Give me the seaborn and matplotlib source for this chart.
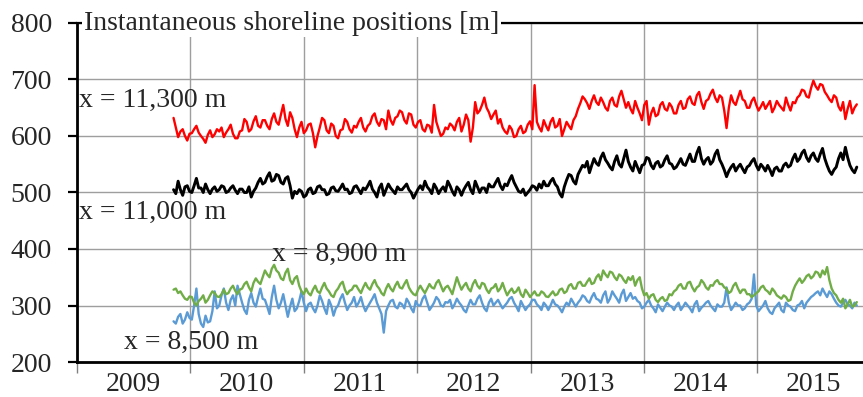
import numpy as np
import pandas as pd
import matplotlib
matplotlib.use("Agg")
import matplotlib.pyplot as plt
import matplotlib.dates as mdates
import seaborn as sns

# ---------------- data ----------------
start_date = "2009-11-08"
end_date = "2015-11-18"
n_points = 300

red_11300 = [
    632, 615, 598, 608, 612, 600, 592, 604, 605, 612, 618, 606, 600, 595, 588, 602, 610, 598, 603, 612,
    608, 615, 598, 606, 612, 620, 604, 596, 596, 608, 610, 630, 625, 608, 612, 626, 635, 618, 615, 628,
    628, 618, 612, 630, 640, 625, 620, 638, 655, 630, 618, 642, 632, 612, 598, 615, 625, 605, 610, 620,
    622, 605, 580, 600, 615, 632, 628, 610, 605, 622, 618, 600, 596, 610, 612, 630, 625, 612, 606, 618,
    615, 625, 632, 615, 608, 618, 622, 635, 640, 625, 618, 630, 628, 612, 645, 628, 620, 632, 635, 645,
    642, 628, 622, 640, 638, 620, 615, 625, 628, 612, 608, 620, 618, 606, 655, 625, 612, 600, 604, 615,
    612, 622, 618, 610, 625, 632, 608, 620, 638, 628, 590, 615, 660, 640, 645, 655, 668, 650, 642, 630,
    638, 645, 622, 630, 615, 608, 604, 618, 612, 598, 600, 612, 618, 605, 608, 620, 626, 612, 690, 625,
    615, 608, 628, 618, 610, 625, 632, 615, 618, 630, 600, 612, 625, 618, 612, 628, 635, 648, 658, 670,
    665, 658, 648, 662, 672, 660, 655, 668, 660, 650, 645, 662, 668, 655, 652, 670, 680, 665, 650, 660,
    648, 640, 662, 650, 640, 628, 655, 662, 620, 640, 650, 635, 638, 655, 660, 648, 645, 658, 652, 640,
    640, 655, 662, 648, 650, 665, 670, 658, 655, 672, 678, 660, 648, 662, 665, 675, 682, 668, 660, 672,
    668, 645, 614, 650, 672, 660, 655, 668, 680, 665, 662, 650, 650, 662, 668, 655, 645, 652, 660, 648,
    655, 662, 642, 650, 662, 655, 650, 645, 668, 655, 645, 660, 658, 668, 672, 682, 680, 670, 668, 685,
    698, 688, 682, 692, 690, 678, 672, 665, 660, 672, 668, 652, 645, 660, 630, 648, 662, 640, 650, 656,
]

black_11000 = [
    505, 498, 520, 505, 495, 510, 512, 502, 500, 512, 525, 508, 508, 500, 515, 505, 498, 506, 510, 502,
    505, 512, 510, 500, 502, 508, 512, 504, 498, 506, 506, 500, 500, 510, 492, 502, 508, 518, 525, 515,
    518, 528, 535, 520, 522, 532, 530, 518, 515, 525, 528, 512, 490, 502, 498, 505, 502, 492, 495, 505,
    508, 498, 500, 510, 512, 505, 505, 496, 498, 508, 510, 503, 502, 508, 515, 505, 506, 498, 500, 510,
    512, 505, 498, 508, 505, 512, 520, 506, 500, 492, 508, 515, 495, 505, 515, 508, 503, 498, 510, 505,
    505, 510, 515, 505, 500, 490, 498, 506, 512, 505, 520, 510, 505, 498, 515, 508, 498, 505, 510, 502,
    520, 512, 502, 495, 510, 505, 495, 505, 512, 518, 505, 498, 520, 510, 500, 508, 508, 500, 515, 510,
    510, 518, 525, 512, 505, 515, 512, 522, 530, 518, 510, 502, 500, 506, 495, 500, 505, 512, 510, 504,
    515, 508, 520, 512, 512, 520, 525, 515, 510, 498, 492, 510, 522, 532, 530, 520, 515, 532, 540, 548,
    545, 555, 535, 548, 560, 552, 548, 562, 570, 558, 552, 545, 540, 555, 565, 550, 545, 560, 575, 555,
    545, 538, 555, 545, 535, 548, 550, 562, 560, 548, 542, 552, 555, 545, 548, 558, 565, 552, 550, 542,
    545, 552, 560, 550, 548, 558, 568, 555, 555, 570, 580, 560, 550, 558, 562, 550, 555, 568, 575, 558,
    550, 540, 528, 538, 545, 550, 538, 545, 550, 542, 535, 545, 548, 555, 560, 548, 540, 550, 545, 538,
    548, 540, 530, 542, 545, 538, 538, 548, 552, 545, 548, 560, 568, 555, 560, 570, 575, 562, 555, 565,
    570, 560, 555, 568, 578, 560, 548, 538, 532, 540, 545, 560, 570, 558, 580, 562, 548, 540, 535, 545,
]

green_8900 = [
    328, 330, 322, 325, 318, 312, 310, 316, 315, 305, 300, 308, 312, 318, 305, 310, 318, 325, 322, 316,
    315, 320, 328, 320, 322, 330, 335, 326, 320, 328, 330, 338, 342, 332, 325, 340, 348, 342, 338, 350,
    362, 355, 350, 365, 372, 362, 358, 348, 345, 358, 365, 345, 338, 348, 352, 335, 325, 320, 330, 322,
    318, 328, 335, 325, 322, 332, 340, 330, 325, 318, 315, 325, 330, 338, 342, 328, 320, 326, 328, 335,
    335, 328, 322, 332, 340, 332, 328, 338, 345, 335, 330, 322, 318, 330, 338, 330, 325, 335, 342, 332,
    330, 338, 345, 332, 325, 320, 318, 328, 335, 328, 322, 330, 338, 332, 330, 340, 345, 335, 325, 332,
    335, 328, 320, 335, 350, 338, 328, 335, 340, 330, 325, 338, 345, 335, 330, 340, 338, 328, 322, 330,
    332, 338, 325, 330, 340, 328, 318, 325, 330, 322, 325, 332, 320, 315, 328, 322, 315, 320, 325, 318,
    318, 325, 322, 316, 315, 320, 325, 318, 320, 328, 330, 322, 325, 335, 338, 330, 330, 340, 342, 335,
    335, 342, 348, 338, 340, 350, 355, 345, 362, 355, 350, 360, 358, 350, 345, 355, 352, 345, 340, 350,
    345, 352, 335, 345, 350, 330, 318, 322, 312, 318, 320, 310, 306, 312, 315, 308, 310, 320, 318, 325,
    328, 335, 338, 330, 330, 340, 342, 332, 325, 332, 335, 345, 340, 332, 328, 336, 335, 342, 345, 338,
    338, 332, 330, 322, 325, 335, 340, 330, 322, 328, 328, 320, 320, 315, 318, 322, 325, 332, 335, 328,
    325, 320, 330, 325, 318, 315, 312, 318, 315, 308, 310, 325, 335, 342, 348, 340, 345, 352, 355, 348,
    352, 360, 358, 350, 362, 355, 368, 345, 330, 322, 318, 310, 305, 312, 295, 302, 310, 298, 300, 306,
]

blue_8500 = [
    272, 268, 280, 285, 268, 275, 288, 278, 275, 300, 330, 285, 268, 262, 282, 270, 272, 290, 325, 295,
    300, 318, 330, 305, 292, 310, 318, 300, 335, 320, 305, 292, 285, 310, 322, 305, 298, 315, 330, 312,
    310, 298, 285, 315, 335, 310, 295, 305, 320, 300, 280, 298, 312, 290, 295, 308, 325, 305, 290, 302,
    305, 295, 288, 300, 318, 308, 295, 285, 310, 300, 282, 295, 300, 312, 320, 305, 292, 300, 305, 315,
    298, 305, 315, 300, 290, 298, 305, 312, 320, 305, 295, 285, 252, 290, 300, 308, 310, 298, 295, 305,
    302, 295, 312, 305, 295, 288, 308, 300, 300, 312, 318, 305, 292, 298, 305, 315, 310, 300, 298, 306,
    305, 310, 295, 302, 312, 305, 300, 292, 288, 300, 310, 302, 302, 312, 318, 305, 295, 290, 305, 312,
    300, 305, 310, 302, 295, 300, 305, 312, 315, 305, 298, 290, 308, 300, 292, 298, 302, 310, 310, 302,
    298, 292, 305, 300, 292, 300, 310, 302, 300, 295, 288, 298, 305, 300, 312, 305, 298, 305, 310, 318,
    315, 308, 305, 315, 322, 312, 310, 305, 318, 325, 305, 312, 325, 318, 312, 305, 320, 328, 308, 315,
    322, 312, 315, 308, 305, 295, 298, 305, 310, 300, 295, 288, 302, 296, 290, 298, 305, 300, 298, 292,
    300, 305, 292, 298, 305, 300, 295, 288, 302, 308, 290, 296, 300, 305, 308, 300, 295, 290, 302, 298,
    298, 305, 332, 305, 292, 298, 305, 300, 300, 292, 295, 302, 305, 312, 355, 300, 290, 295, 300, 308,
    295, 288, 285, 295, 300, 305, 292, 288, 305, 300, 298, 292, 290, 300, 302, 308, 295, 305, 310, 315,
    318, 322, 325, 318, 330, 322, 315, 325, 320, 312, 305, 300, 298, 305, 310, 302, 300, 295, 305, 300,
]

series_names = ["x = 8,500 m", "x = 8,900 m", "x = 11,000 m", "x = 11,300 m"]
series_values = [blue_8500, green_8900, black_11000, red_11300]
series_colors = ["#5B9BD5", "#70AD47", "#000000", "#FF0000"]
series_widths = [1.7, 1.7, 2.1, 1.7]

year_labels = ["2009", "2010", "2011", "2012", "2013", "2014", "2015"]
y_ticks = [200, 300, 400, 500, 600, 700, 800]
title_text = "Instantaneous shoreline positions [m]"

# ---------------- build long-form table ----------------
dates = pd.date_range(start_date, end_date, periods=n_points)
frames = []
for name, vals in zip(series_names, series_values):
    frames.append(pd.DataFrame({"date": dates, "value": vals, "series": name}))
df = pd.concat(frames, ignore_index=True)

# ---------------- style ----------------
sns.set_style("white")
plt.rcParams["font.family"] = ["Liberation Serif", "DejaVu Serif"]
FS = 20

fig = plt.figure(figsize=(8.63, 3.97), dpi=100)
ax = fig.add_axes([77 / 863, 35 / 397, 786 / 863, 339 / 397])

for name, color, lw in zip(series_names, series_colors, series_widths):
    sns.lineplot(data=df[df["series"] == name], x="date", y="value",
                 color=color, linewidth=lw, ax=ax, legend=False, zorder=3)

ax.set_xlabel("")
ax.set_ylabel("")

ax.set_ylim(y_ticks[0], y_ticks[-1])
ax.set_yticks(y_ticks)
ax.set_xlim(pd.Timestamp("2009-01-01"), pd.Timestamp("2015-12-08"))

ax.xaxis.set_major_locator(mdates.YearLocator())
ax.xaxis.set_major_formatter(plt.NullFormatter())
ax.xaxis.set_minor_locator(mdates.MonthLocator(bymonth=7, bymonthday=2))
ax.xaxis.set_minor_formatter(plt.FixedFormatter(year_labels))
ax.tick_params(axis="x", which="major", direction="out", length=8, width=1.0,
               color="#808080", bottom=True)
ax.tick_params(axis="x", which="minor", length=0, pad=7, labelsize=FS)
ax.tick_params(axis="y", which="major", direction="out", length=6.5, width=1.6,
               color="black", left=True, pad=11.5, labelsize=FS)

ax.grid(True, which="major", axis="both", color="#9E9E9E", linewidth=1.0, zorder=0)
ax.set_axisbelow(True)

for side in ["left", "bottom", "top"]:
    ax.spines[side].set_visible(True)
    ax.spines[side].set_color("black")
ax.spines["left"].set_linewidth(2.0)
ax.spines["bottom"].set_linewidth(2.0)
ax.spines["top"].set_linewidth(1.6)
ax.spines["right"].set_visible(False)

ax.text(0.009, 1.0, title_text, transform=ax.transAxes, ha="left", va="center",
        fontsize=FS, zorder=10, clip_on=False,
        bbox=dict(facecolor="white", edgecolor="none", pad=1.5))
# keep the left spine visible above the title's white box
ax.spines["left"].set_zorder(11)

label_pos = {
    "x = 11,300 m": (0.002, 0.773),
    "x = 11,000 m": (0.002, 0.440),
    "x = 8,900 m": (0.248, 0.316),
    "x = 8,500 m": (0.060, 0.059),
}
for name, (lx, ly) in label_pos.items():
    ax.text(lx, ly, name, transform=ax.transAxes, ha="left", va="center",
            fontsize=FS, zorder=5)

fig.savefig("out.png", dpi=100)
